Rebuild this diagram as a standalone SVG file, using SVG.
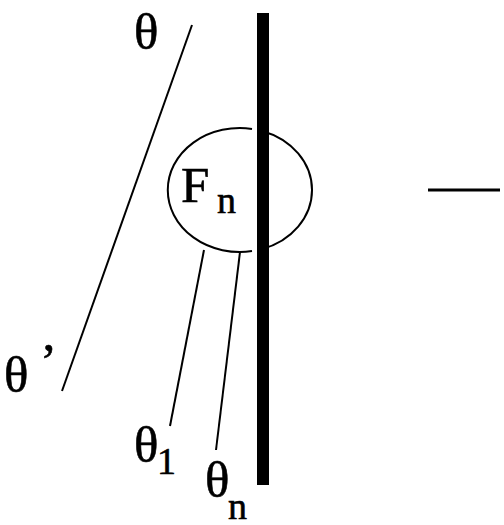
<svg xmlns="http://www.w3.org/2000/svg" width="504" height="525" viewBox="0 0 504 525">
<style>
.ln{stroke:#000;stroke-width:2;fill:none}
.t{font-family:"Liberation Serif","Times New Roman",serif;fill:#000;stroke:#000;stroke-width:0.6}
.big{font-size:51px}
.sub{font-size:38px}
</style>
<rect width="504" height="525" fill="#fff"/>
<g id="connectors">
<line class="ln" x1="192" y1="25" x2="62" y2="391"/>
<line class="ln" x1="204" y1="250" x2="170" y2="426"/>
<line class="ln" x1="240" y1="252" x2="216" y2="450"/>
<line x1="428" y1="190" x2="500" y2="190" stroke="#000" stroke-width="3"/>
</g>
<g id="wall">
<rect x="257" y="13" width="12" height="472" fill="#000"/>
</g>
<g id="Fn">
<path class="ln" stroke-width="2.5" d="M252,128.9 A72,62 0 1 0 252,251.1"/>
<path class="ln" stroke-width="2.5" d="M262,130.96 A72,62 0 0 1 262,249.04"/>
<text class="t big" x="181" y="202">F</text>
<text class="t sub" x="217" y="213">n</text>
</g>
<g id="theta">
<text class="t big" x="134" y="49">θ</text>
</g>
<g id="theta-prime">
<text class="t big" x="4" y="392">θ</text>
<text class="t big" x="40" y="378">’</text>
</g>
<g id="theta1">
<text class="t big" x="134" y="462">θ</text>
<text class="t sub" x="157" y="474">1</text>
</g>
<g id="thetan">
<text class="t big" x="205" y="497">θ</text>
<text class="t sub" x="228" y="519">n</text>
</g>
</svg>
